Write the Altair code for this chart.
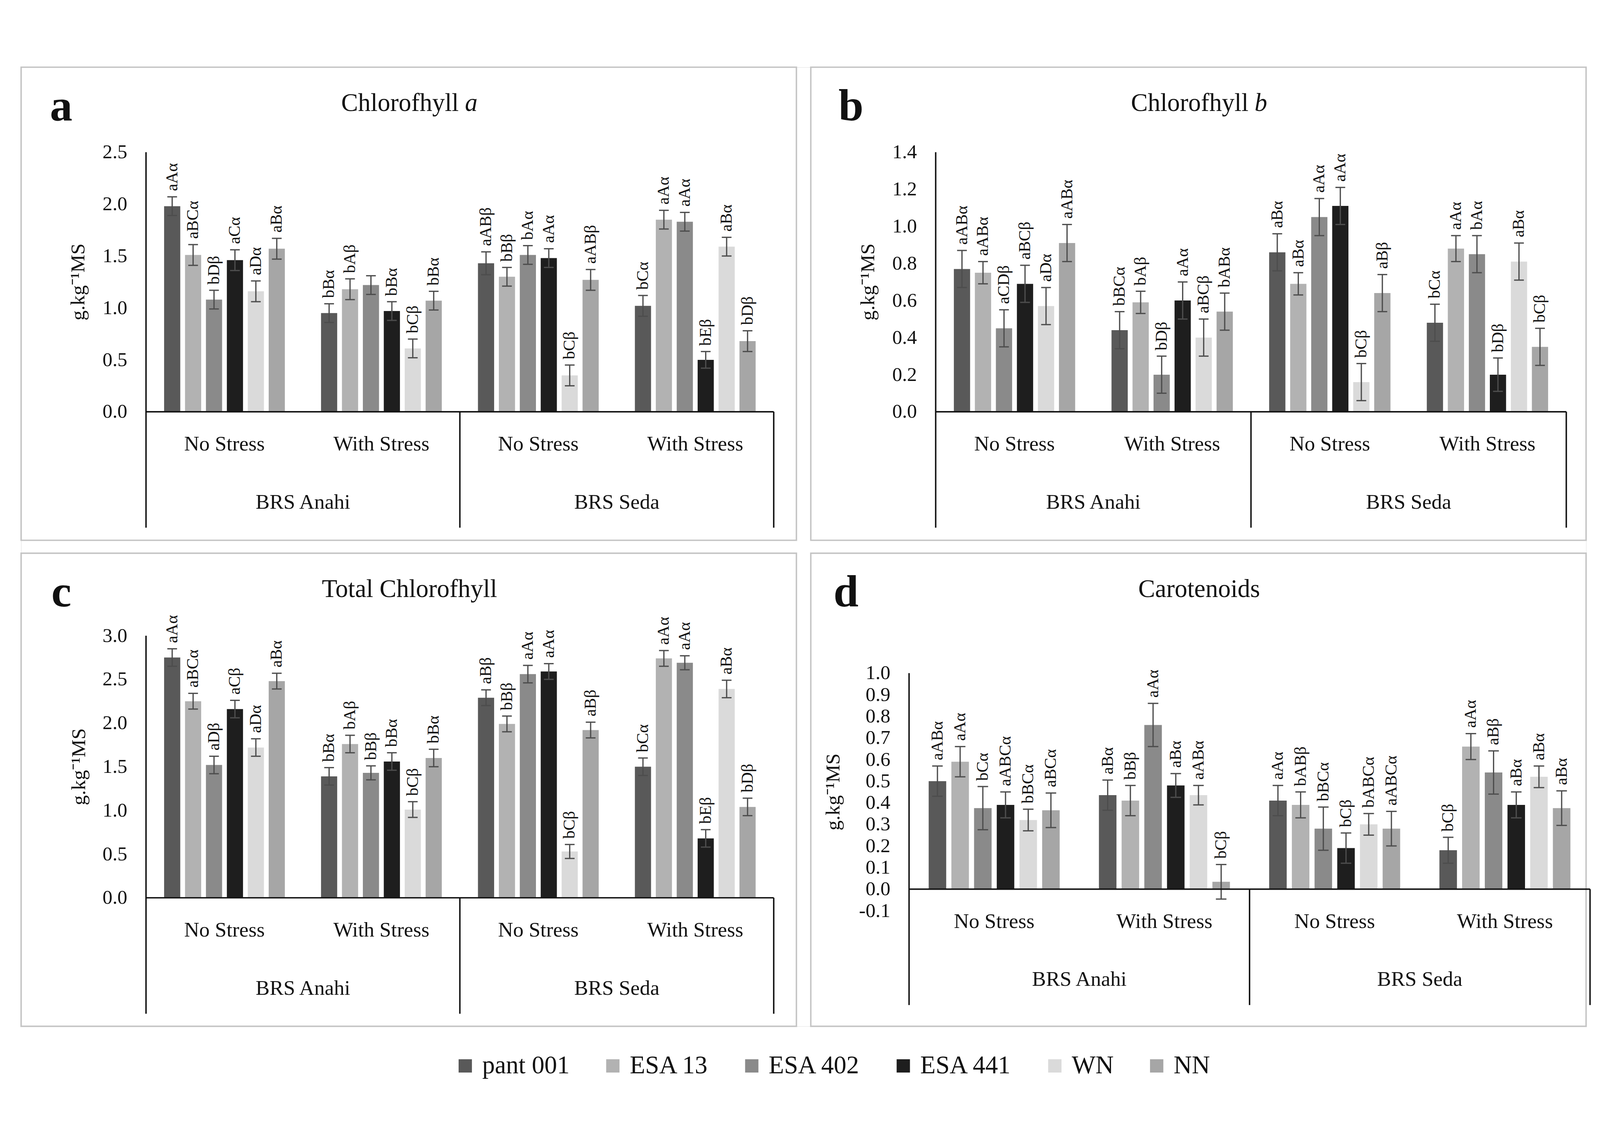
import altair as alt
import pandas as pd

CULTIVARS = ["pant 001", "ESA 13", "ESA 402", "ESA 441", "WN", "NN"]
COLORS = ["#595959", "#b2b2b2", "#8a8a8a", "#1e1e1e", "#dadada", "#a6a6a6"]
STRESS = ["No Stress", "With Stress"]
VARIETIES = ["BRS Anahi", "BRS Seda"]

# order: BRS Anahi/No Stress, BRS Anahi/With Stress, BRS Seda/No Stress, BRS Seda/With Stress; 6 cultivars each
CHLA_MEAN = [1.98, 1.51, 1.08, 1.46, 1.16, 1.57,
             0.95, 1.18, 1.22, 0.97, 0.61, 1.07,
             1.43, 1.30, 1.51, 1.48, 0.35, 1.27,
             1.02, 1.85, 1.83, 0.50, 1.59, 0.68]
CHLA_ERR = [0.09, 0.10, 0.09, 0.10, 0.10, 0.10,
            0.09, 0.10, 0.09, 0.09, 0.09, 0.09,
            0.11, 0.09, 0.09, 0.09, 0.10, 0.10,
            0.10, 0.09, 0.09, 0.08, 0.09, 0.10]
CHLA_LAB = ["aAα", "aBCα", "bDβ", "aCα", "aDα", "aBα",
            "bBα", "bAβ", "", "bBα", "bCβ", "bBα",
            "aABβ", "bBβ", "bAα", "aAα", "bCβ", "aABβ",
            "bCα", "aAα", "aAα", "bEβ", "aBα", "bDβ"]

CHLB_MEAN = [0.77, 0.75, 0.45, 0.69, 0.57, 0.91,
             0.44, 0.59, 0.20, 0.60, 0.40, 0.54,
             0.86, 0.69, 1.05, 1.11, 0.16, 0.64,
             0.48, 0.88, 0.85, 0.20, 0.81, 0.35]
CHLB_ERR = [0.10, 0.06, 0.10, 0.10, 0.10, 0.10,
            0.10, 0.06, 0.10, 0.10, 0.10, 0.10,
            0.10, 0.06, 0.10, 0.10, 0.10, 0.10,
            0.10, 0.07, 0.10, 0.09, 0.10, 0.10]
CHLB_LAB = ["aABα", "aABα", "aCDβ", "aBCβ", "aDα", "aABα",
            "bBCα", "bAβ", "bDβ", "aAα", "aBCβ", "bABα",
            "aBα", "aBα", "aAα", "aAα", "bCβ", "aBβ",
            "bCα", "aAα", "bAα", "bDβ", "aBα", "bCβ"]

TOT_MEAN = [2.75, 2.25, 1.52, 2.16, 1.72, 2.48,
            1.39, 1.76, 1.43, 1.56, 1.01, 1.60,
            2.29, 1.99, 2.56, 2.59, 0.53, 1.92,
            1.50, 2.74, 2.69, 0.68, 2.39, 1.04]
TOT_ERR = [0.10, 0.09, 0.10, 0.10, 0.10, 0.09,
           0.10, 0.10, 0.08, 0.10, 0.09, 0.10,
           0.09, 0.09, 0.10, 0.09, 0.08, 0.09,
           0.10, 0.09, 0.08, 0.10, 0.10, 0.10]
TOT_LAB = ["aAα", "aBCα", "aDβ", "aCβ", "aDα", "aBα",
           "bBα", "bAβ", "bBβ", "bBα", "bCβ", "bBα",
           "aBβ", "bBβ", "aAα", "aAα", "bCβ", "aBβ",
           "bCα", "aAα", "aAα", "bEβ", "aBα", "bDβ"]

CAR_MEAN = [0.50, 0.59, 0.375, 0.39, 0.32, 0.365,
            0.435, 0.41, 0.76, 0.48, 0.435, 0.034,
            0.41, 0.39, 0.28, 0.19, 0.30, 0.28,
            0.18, 0.66, 0.54, 0.39, 0.52, 0.375]
CAR_ERR = [0.07, 0.07, 0.10, 0.06, 0.05, 0.08,
           0.07, 0.07, 0.10, 0.055, 0.045, 0.08,
           0.07, 0.06, 0.10, 0.07, 0.05, 0.08,
           0.06, 0.06, 0.10, 0.06, 0.05, 0.08]
CAR_LAB = ["aABα", "aAα", "bCα", "aABCα", "bBCα", "aBCα",
           "aBα", "bBβ", "aAα", "aBα", "aABα", "bCβ",
           "aAα", "bABβ", "bBCα", "bCβ", "bABCα", "aABCα",
           "bCβ", "aAα", "aBβ", "aBα", "aBα", "aBα"]

TICKS_A = [0.0, 0.5, 1.0, 1.5, 2.0, 2.5]
TICKS_B = [0.0, 0.2, 0.4, 0.6, 0.8, 1.0, 1.2, 1.4]
TICKS_C = [0.0, 0.5, 1.0, 1.5, 2.0, 2.5, 3.0]
TICKS_D = [-0.1, 0.0, 0.1, 0.2, 0.3, 0.4, 0.5, 0.6, 0.7, 0.8, 0.9, 1.0]

FONT = "Liberation Serif"
W, H = 2154, 1314            # one panel box
GAP_X, GAP_Y = 40, 36
PW, PH = 2 * W + GAP_X, 2 * H + GAP_Y   # whole plotting area
STEP = 0.1333
HALF = 0.0515
CAP = 0.031
COLOR_SCALE = alt.Scale(domain=CULTIVARS, range=COLORS)

LEGEND = alt.Legend(orient="none", legendX=1199, legendY=2739, direction="horizontal",
                    columns=6, title=None, symbolType="square", symbolSize=1369,
                    symbolStrokeWidth=0, labelFont=FONT, labelFontSize=70,
                    labelOffset=12, columnPadding=84, labelLimit=1000, padding=0,
                    labelColor="#111111")


def build_df(means, errs, labs):
    rows = []
    for k, (m, e, l) in enumerate(zip(means, errs, labs)):
        g, i = divmod(k, 6)
        xc = g + 0.5 + (i - 2.5) * STEP
        rows.append(dict(cultivar=CULTIVARS[i], xc=xc, x1=xc - HALF, x2=xc + HALF,
                         cl=xc - CAP, cr=xc + CAP, base=0.0, mean=m,
                         lo=m - e, hi=m + e, lab=l))
    return pd.DataFrame(rows)


def panel(L, T, letter, letter_x, title_main, title_ital, means, errs, labs, ticks,
          top_px, zero_px, axis_px, unit, ytitle_gap):
    """Layers of one panel whose box sits at (L, T) inside the plotting area."""
    top_val = ticks[-1]
    ppu = (zero_px - top_px) / top_val
    ymax = zero_px / ppu
    ymin = -(H - zero_px) / ppu
    xmin = -axis_px / unit
    xmax = (W - axis_px) / unit
    # scale domains over the whole plotting area so the panel box lands at (L, T)
    fx0 = xmin - L / unit
    fx1 = xmin + (PW - L) / unit
    fy1 = ymax + T / ppu
    fy0 = ymin - (PH - T - H) / ppu
    xs = alt.Scale(domain=[fx0, fx1], nice=False, zero=False)
    ys = alt.Scale(domain=[fy0, fy1], nice=False, zero=False)

    def X(f):
        return alt.X(f, type="quantitative", scale=xs, axis=None)

    def Y(f):
        return alt.Y(f, type="quantitative", scale=ys, axis=None)

    df = build_df(means, errs, labs)
    bottom = -322 / ppu

    box = alt.Chart(pd.DataFrame({"bx0": [xmin], "bx1": [xmax], "by0": [ymin],
                                  "by1": [ymax]})).mark_rect(
        fillOpacity=0, stroke="#c4c4c4", strokeWidth=4).encode(
        x=X("bx0"), x2="bx1", y=Y("by0"), y2="by1")
    bars = alt.Chart(df).mark_bar().encode(
        x=X("x1"), x2="x2", y=Y("base"), y2="mean",
        color=alt.Color("cultivar:N", scale=COLOR_SCALE, legend=LEGEND))
    err = alt.Chart(df).mark_rule(color="#4d4d4d", strokeWidth=3.5).encode(
        x=X("xc"), y=Y("lo"), y2="hi")
    cap_hi = alt.Chart(df).mark_rule(color="#4d4d4d", strokeWidth=3.5).encode(
        x=X("cl"), x2="cr", y=Y("hi"))
    cap_lo = alt.Chart(df).mark_rule(color="#4d4d4d", strokeWidth=3.5).encode(
        x=X("cl"), x2="cr", y=Y("lo"))
    labels = alt.Chart(df).mark_text(angle=270, align="left", baseline="middle", dx=16,
                                     font=FONT, fontSize=46, color="#111111").encode(
        x=X("xc"), y=Y("hi"), text="lab:N")

    frame = pd.DataFrame({"x": [0, 2, 4, 0], "x2": [0, 2, 4, 4],
                          "y": [top_val, 0, 0, 0], "y2": [bottom, bottom, bottom, 0]})
    lines = alt.Chart(frame).mark_rule(color="#111111", strokeWidth=4).encode(
        x=X("x"), x2="x2", y=Y("y"), y2="y2")

    tdf = pd.DataFrame({"v": ticks, "t": [f"{v:.1f}" for v in ticks]})
    tick_labels = alt.Chart(tdf).mark_text(align="right", baseline="middle", font=FONT,
                                           fontSize=55, color="#111111").encode(
        x=alt.value(L + axis_px - 52), y=Y("v"), text="t:N")

    t_lo_px = zero_px - ticks[0] * ppu
    one = pd.DataFrame({"k": [0]})
    ytitle = alt.Chart(one).mark_text(
        angle=270, align="center", baseline="middle", font=FONT, fontSize=56,
        color="#111111", text="g.kg⁻¹MS").encode(
        x=alt.value(L + axis_px - ytitle_gap), y=alt.value(T + (top_px + t_lo_px) / 2))

    cat1 = pd.DataFrame({"x": [0.5, 1.5, 2.5, 3.5], "y": [-91 / ppu] * 4,
                         "t": STRESS * 2})
    cat2 = pd.DataFrame({"x": [1.0, 3.0], "y": [-252 / ppu] * 2, "t": VARIETIES})
    cats = alt.Chart(pd.concat([cat1, cat2], ignore_index=True)).mark_text(
        align="center", baseline="middle", font=FONT, fontSize=58, color="#111111").encode(
        x=X("x"), y=Y("y"), text="t:N")

    layers = [box, bars, err, cap_hi, cap_lo, labels, lines, tick_labels, ytitle, cats]
    if title_ital:
        layers.append(alt.Chart(one).mark_text(
            align="right", baseline="alphabetic", font=FONT, fontSize=70,
            color="#111111", text=title_main).encode(
            x=alt.value(L + 1216), y=alt.value(T + 122)))
        layers.append(alt.Chart(one).mark_text(
            align="left", baseline="alphabetic", font=FONT, fontSize=70, fontStyle="italic",
            color="#111111", text=title_ital).encode(
            x=alt.value(L + 1233), y=alt.value(T + 122)))
    else:
        layers.append(alt.Chart(one).mark_text(
            align="center", baseline="alphabetic", font=FONT, fontSize=70,
            color="#111111", text=title_main).encode(
            x=alt.value(L + 1079), y=alt.value(T + 122)))
    layers.append(alt.Chart(one).mark_text(
        align="left", baseline="alphabetic", font=FONT, fontSize=125, fontWeight="bold",
        color="#111111", text=letter).encode(
        x=alt.value(L + letter_x), y=alt.value(T + 148)))
    return layers


R2 = W + GAP_X
B2 = H + GAP_Y
all_layers = (
    panel(0, 0, "a", 80, "Chlorofhyll", "a", CHLA_MEAN, CHLA_ERR, CHLA_LAB, TICKS_A,
          236, 957, 347, 436, 188)
    + panel(R2, 0, "b", 77, "Chlorofhyll", "b", CHLB_MEAN, CHLB_ERR, CHLB_LAB, TICKS_B,
            236, 957, 347, 438, 188)
    + panel(0, B2, "c", 84, "Total Chlorofhyll", None, TOT_MEAN, TOT_ERR, TOT_LAB,
            TICKS_C, 229, 957, 347, 436, 186)
    + panel(R2, B2, "d", 63, "Carotenoids", None, CAR_MEAN, CAR_ERR, CAR_LAB, TICKS_D,
            333, 933, 273, 473, 210)
)

chart = alt.layer(*all_layers).resolve_scale(
    x="independent", y="independent", color="shared"
).properties(
    width=PW, height=PH,
    autosize=alt.AutoSizeParams(type="none"),
    padding={"left": 50, "top": 54, "right": 30, "bottom": 190},
    background="white",
).configure_view(
    strokeOpacity=0, strokeWidth=0
).configure(font=FONT)

chart.save("out.html", embed_options={"renderer": "svg", "actions": False})
